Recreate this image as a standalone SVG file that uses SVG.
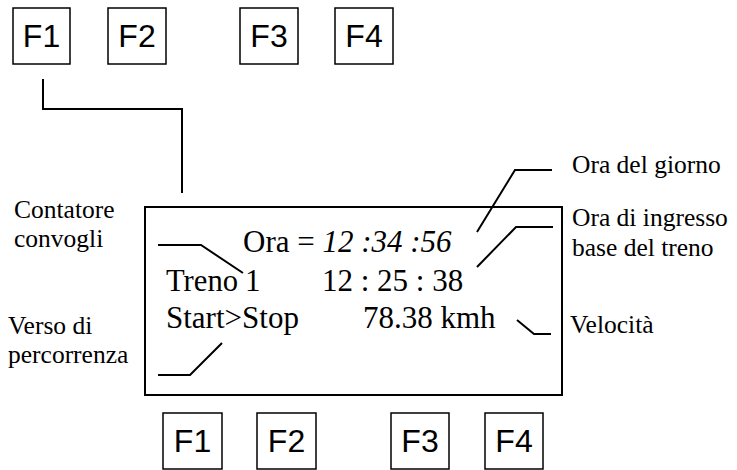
<svg xmlns="http://www.w3.org/2000/svg" width="737" height="470" viewBox="0 0 737 470">
<style>
.key{fill:#fff;stroke:#000;stroke-width:1.5}
.kt{font-family:'Liberation Sans',Arial,sans-serif;font-size:32px;fill:#000}
.lbl{font-family:'Liberation Serif','Times New Roman',serif;font-size:25.5px;fill:#000}
.disp{font-family:'Liberation Serif','Times New Roman',serif;font-size:31px;fill:#000}
.ln{fill:none;stroke:#000;stroke-width:2}
</style>
<rect width="737" height="470" fill="#fff"/>
<g id="top-f1"><rect class="key" x="13" y="8" width="57" height="56"/><text class="kt" x="41.5" y="47" text-anchor="middle">F1</text></g>
<g id="top-f2"><rect class="key" x="108" y="8" width="58" height="56"/><text class="kt" x="137" y="47" text-anchor="middle">F2</text></g>
<g id="top-f3"><rect class="key" x="240" y="8" width="58" height="56"/><text class="kt" x="269" y="47" text-anchor="middle">F3</text></g>
<g id="top-f4"><rect class="key" x="335" y="8" width="58" height="56"/><text class="kt" x="364" y="47" text-anchor="middle">F4</text></g>
<g id="display">
<rect x="145" y="207" width="417" height="188" fill="#fff" stroke="#000" stroke-width="2"/>
<text class="disp" x="243" y="252">Ora = <tspan font-style="italic">12 :34 :56</tspan></text>
<text class="disp" x="166" y="291" textLength="72" lengthAdjust="spacingAndGlyphs">Treno</text>
<text class="disp" x="245" y="291">1<tspan x="322">12 : 25 : 38</tspan></text>
<text class="disp" x="166" y="328">Start&gt;Stop<tspan x="363">78.38 kmh</tspan></text>
</g>
<g id="bot-f1"><rect class="key" x="163" y="413" width="59" height="56"/><text class="kt" x="192.5" y="452" text-anchor="middle">F1</text></g>
<g id="bot-f2"><rect class="key" x="257" y="413" width="59" height="56"/><text class="kt" x="286.5" y="452" text-anchor="middle">F2</text></g>
<g id="bot-f3"><rect class="key" x="391" y="413" width="58" height="56"/><text class="kt" x="420" y="452" text-anchor="middle">F3</text></g>
<g id="bot-f4"><rect class="key" x="485" y="413" width="58" height="56"/><text class="kt" x="514" y="452" text-anchor="middle">F4</text></g>
<g id="label-contatore"><text class="lbl" x="14" y="218">Contatore</text><text class="lbl" x="14" y="247">convogli</text></g>
<g id="label-verso"><text class="lbl" x="8" y="334">Verso di</text><text class="lbl" x="8" y="363">percorrenza</text></g>
<g id="label-ora"><text class="lbl" x="572" y="173">Ora del giorno</text></g>
<g id="label-ingresso"><text class="lbl" x="572" y="226">Ora di ingresso</text><text class="lbl" x="572" y="256">base del treno</text></g>
<g id="label-velocita"><text class="lbl" x="570" y="333">Velocità</text></g>
<g id="connectors">
<polyline class="ln" points="43,79 43,109 182,109 182,193"/>
<polyline class="ln" points="158,245 201,245 243,273"/>
<polyline class="ln" points="158,375 190,375 222,343"/>
<polyline class="ln" points="477,232 515,170 552,170"/>
<polyline class="ln" points="477,267 516,227 553,227"/>
<polyline class="ln" points="517,320 534,334 551,334"/>
</g>
</svg>
